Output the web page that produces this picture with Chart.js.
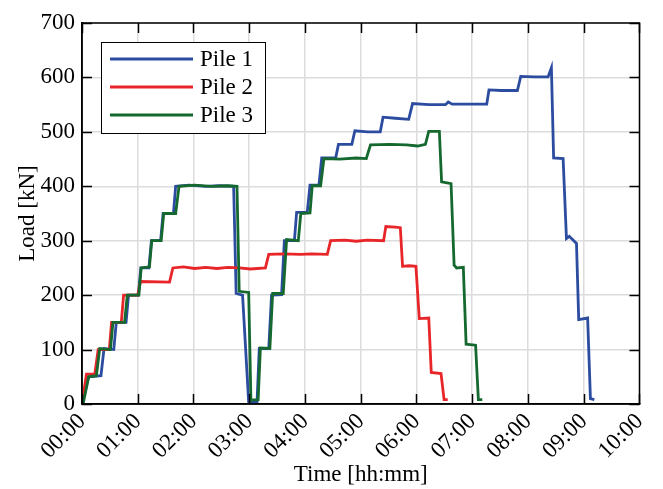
<!DOCTYPE html>
<html><head><meta charset="utf-8">
<script src="https://cdn.jsdelivr.net/npm/chart.js@4"></script>
<style>html,body{margin:0;padding:0;background:#fff}</style>
</head><body>
<canvas id="c" width="663" height="489"></canvas>
<script>
const timeLabels = ['00:00','01:00','02:00','03:00','04:00','05:00','06:00','07:00','08:00','09:00','10:00'];
const loadTicks = [0,100,200,300,400,500,600,700];
const seriesNames = ['Pile 1','Pile 2','Pile 3'];
const seriesColors = ['#2b4c9f','#e8262a','#15692f'];

const pile1Time = [0.00,0.12,0.34,0.395,0.57,0.615,0.79,0.835,1.01,1.055,1.20,1.245,1.41,1.455,1.64,1.68,1.92,2.22,2.47,2.72,2.765,2.88,2.99,3.14,3.18,3.35,3.40,3.58,3.63,3.81,3.85,4.04,4.09,4.25,4.30,4.55,4.60,4.84,4.895,5.12,5.35,5.40,5.62,5.86,5.93,6.22,6.52,6.57,6.64,7.02,7.26,7.30,7.52,7.81,7.87,8.12,8.36,8.42,8.46,8.63,8.69,8.74,8.87,8.91,9.07,9.12,9.19];
const pile1Load = [0,50,52,102,100,150,150,200,200,250,250,300,300,350,350,400,402,400,401,400,203,200,3,4,102,102,200,201,300,300,352,352,402,402,452,452,477,477,502,500,500,527,525,523,552,550,550,555,551,551,551,577,576,576,602,601,601,618,452,451,304,308,295,155,158,10,8];

const pile2Time = [0.0,0.08,0.23,0.29,0.49,0.53,0.705,0.746,1.0,1.05,1.57,1.63,1.82,2.02,2.22,2.42,2.62,2.82,3.02,3.29,3.35,3.62,3.92,4.12,4.40,4.46,4.72,4.92,5.12,5.41,5.45,5.62,5.71,5.75,5.87,5.99,6.05,6.22,6.265,6.44,6.495,6.56];
const pile2Load = [0,55,55,100,100,150,150,200,200,225,224,250,252,249,251,249,251,250,248,250,275,276,275,276,275,300,301,299,301,300,326,325,324,253,254,253,157,158,58,56,8,8];

const pile3Time = [0.02,0.12,0.258,0.318,0.51,0.556,0.764,0.812,1.02,1.062,1.21,1.252,1.42,1.466,1.68,1.74,2.02,2.32,2.62,2.78,2.82,2.99,3.03,3.16,3.20,3.37,3.42,3.61,3.67,3.88,3.925,4.09,4.13,4.28,4.34,4.62,4.92,5.10,5.175,5.52,5.82,6.02,6.16,6.22,6.41,6.45,6.62,6.675,6.72,6.84,6.89,7.06,7.11,7.18];
const pile3Load = [0,50,52,102,100,150,150,200,200,250,252,300,300,350,350,400,402,400,401,400,207,205,7,8,103,102,203,203,302,300,350,351,401,401,451,450,452,451,476,477,476,474,477,501,501,408,405,255,250,251,110,108,8,8];

const FONT = 'Liberation Serif';
const FS = 23;

function pts(t, v) { return t.map((x, i) => ({x: x, y: v[i]})); }
const allTimes = [pile1Time, pile2Time, pile3Time];
const allLoads = [pile1Load, pile2Load, pile3Load];

const datasets = seriesNames.map((n, i) => ({
  label: n,
  data: pts(allTimes[i], allLoads[i]),
  borderColor: seriesColors[i],
  backgroundColor: seriesColors[i],
  borderWidth: 2.8,
  pointRadius: 0,
  tension: 0,
  fill: false
}));
datasets[0].order = 2; datasets[1].order = 1; datasets[2].order = 0;

const frameTicks = {
  id: 'frameTicks',
  afterDatasetsDraw(chart) {
    const {ctx, chartArea: a, scales: {x, y}} = chart;
    ctx.save();
    ctx.strokeStyle = '#000';
    ctx.lineWidth = 1.5;
    ctx.beginPath();
    const L = 10;
    x.ticks.forEach(t => {
      const px = Math.round(x.getPixelForValue(t.value)) + 0.5;
      ctx.moveTo(px, a.bottom); ctx.lineTo(px, a.bottom - L);
      ctx.moveTo(px, a.top); ctx.lineTo(px, a.top + L);
    });
    y.ticks.forEach(t => {
      const py = Math.round(y.getPixelForValue(t.value)) + 0.5;
      ctx.moveTo(a.left, py); ctx.lineTo(a.left + L, py);
      ctx.moveTo(a.right, py); ctx.lineTo(a.right - L, py);
    });
    ctx.stroke();
    ctx.strokeRect(a.left, a.top, a.right - a.left, a.bottom - a.top);
    ctx.restore();
  },
  afterDraw(chart) {
    const {ctx, chartArea: a} = chart;
    ctx.save();
    const bx = a.left + 19, by = a.top + 19, bw = 164, bh = 91;
    ctx.fillStyle = '#fff';
    ctx.fillRect(bx, by, bw, bh);
    ctx.strokeStyle = '#000';
    ctx.lineWidth = 1;
    ctx.strokeRect(bx + 0.5, by + 0.5, bw, bh);
    ctx.font = FS + 'px "' + FONT + '"';
    ctx.textBaseline = 'middle';
    ctx.textAlign = 'left';
    chart.data.datasets.forEach((d, i) => {
      const cy = by + 17 + i * 28;
      ctx.strokeStyle = d.borderColor;
      ctx.lineWidth = 2.8;
      ctx.beginPath();
      ctx.moveTo(bx + 9, cy); ctx.lineTo(bx + 92, cy);
      ctx.stroke();
      ctx.fillStyle = '#000';
      ctx.fillText(d.label, bx + 99, cy + 1);
    });
    ctx.restore();
  }
};

new Chart(document.getElementById('c'), {
  type: 'line',
  data: {datasets: datasets},
  options: {
    responsive: false,
    animation: false,
    devicePixelRatio: 1,
    layout: {padding: {top: 23, right: 21, left: 0, bottom: 0}},
    plugins: {legend: {display: false}, tooltip: {enabled: false}},
    scales: {
      x: {
        type: 'linear',
        min: 0, max: 10,
        afterFit: s => { s.height = 85; },
        afterBuildTicks: s => { s.ticks = timeLabels.map((_, i) => ({value: i})); },
        ticks: {
          autoSkip: false,
          minRotation: 45, maxRotation: 45,
          padding: 4,
          color: '#000',
          font: {family: FONT, size: FS},
          callback: (v, i) => timeLabels[i]
        },
        grid: {color: '#dcdcdc', lineWidth: 1.5, drawTicks: false},
        border: {display: true, color: '#000', width: 1.5},
        title: {display: true, text: 'Time [hh:mm]', color: '#000', font: {family: FONT, size: FS}, padding: {top: 0, bottom: 0}}
      },
      y: {
        type: 'linear',
        min: 0, max: 700,
        afterFit: s => { s.width = 82; },
        afterBuildTicks: s => { s.ticks = loadTicks.map(v => ({value: v})); },
        ticks: {
          padding: 7,
          color: '#000',
          font: {family: FONT, size: FS},
          callback: v => String(v)
        },
        grid: {color: '#dcdcdc', lineWidth: 1.5, drawTicks: false},
        border: {display: true, color: '#000', width: 1.5},
        title: {display: true, text: 'Load [kN]', color: '#000', font: {family: FONT, size: FS}, padding: {top: 14, bottom: 4}}
      }
    }
  },
  plugins: [frameTicks]
});
</script>
</body></html>
